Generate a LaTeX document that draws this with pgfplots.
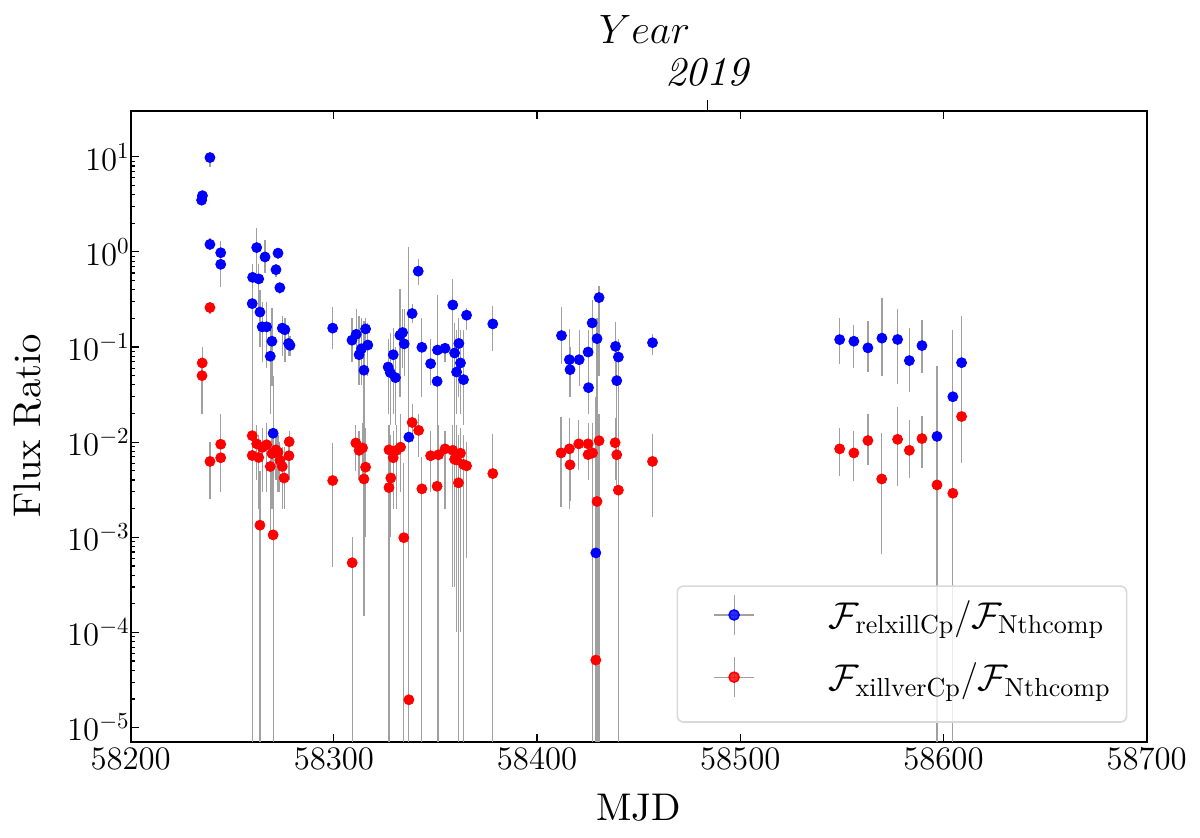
\RequirePackage{fix-cm}
\documentclass[border=0pt]{standalone}
\usepackage{fontspec}
\setmainfont{lmroman10-regular.otf}[ItalicFont=lmroman10-italic.otf, BoldFont=lmroman10-bold.otf]
\usepackage{pgfplots}
\usepackage{pgfplotstable}
\pgfplotsset{compat=1.18}

\pgfplotstableread{
x y lo hi
58234.9 3.5 3.2 3.8
58235.3 3.9 3.6 4.2
58239.0 9.8 7.8 10.5
58239.0 1.2 1.05 1.4
58244.3 0.98 0.82 1.3
58244.3 0.74 0.43 0.95
58259.8 0.286 2e-6 0.45
58260.0 0.54 0.3 0.75
58262.0 1.11 0.6 1.8
58263.0 0.52 0.25 0.75
58263.6 0.233 0.1 0.4
58264.7 0.163 0.07 0.3
58266.1 0.885 0.6 1.33
58266.9 0.163 0.06 0.3
58268.7 0.080 0.02 0.18
58269.5 0.115 0.039 0.26
58270.1 0.0124 0.008 0.05
58271.5 0.65 0.55 0.75
58272.5 0.97 0.85 1.1
58273.4 0.42 0.36 0.48
58274.6 0.158 0.08 0.21
58275.9 0.152 0.07 0.2
58277.7 0.109 0.08 0.14
58278.4 0.104 0.08 0.13
58299.4 0.158 0.096 0.263
58308.9 0.118 0.07 0.2
58311.0 0.136 0.08 0.25
58312.4 0.083 0.04 0.21
58313.6 0.096 0.04 0.2
58314.8 0.057 0.0002 0.19
58315.6 0.155 0.1 0.2
58316.7 0.105 0.05 0.18
58326.7 0.0616 0.02 0.12
58327.7 0.054 0.015 0.14
58329.2 0.083 0.02 0.16
58330.3 0.0477 0.015 0.1
58332.5 0.133 0.03 0.41
58333.8 0.142 0.06 0.25
58334.6 0.108 0.05 0.25
58336.9 0.0113 2e-6 1.13
58338.5 0.225 0.18 0.28
58341.5 0.627 0.45 0.85
58343.3 0.0993 0.03 0.2
58347.6 0.0668 0.04 0.12
58350.8 0.0436 2e-6 0.15
58351.0 0.093 2e-6 0.35
58354.7 0.097 0.07 0.11
58358.5 0.277 0.05 0.52
58359.4 0.0865 0.01 0.18
58360.4 0.0546 0.02 0.15
58361.5 0.109 0.03 0.2
58362.3 0.068 0.02 0.15
58363.8 0.0454 0.015 0.15
58365.3 0.216 0.15 0.26
58378.2 0.175 0.09 0.27
58412.0 0.132 0.067 0.263
58415.9 0.0736 0.038 0.153
58416.2 0.0578 0.03 0.1
58420.7 0.0736 0.039 0.15
58425.1 0.0886 0.04 0.15
58425.3 0.0374 0.02 0.07
58427.1 0.179 0.08 0.31
58428.9 0.000685 2e-6 0.03
58429.5 0.1225 2e-6 0.2
58430.5 0.331 0.05 0.44
58438.6 0.1016 0.04 0.183
58439.2 0.0443 0.01 0.1
58440.0 0.0785 2e-6 0.12
58456.8 0.111 0.082 0.137
58548.9 0.1197 0.067 0.2
58555.9 0.115 0.06 0.17
58562.8 0.098 0.054 0.19
58569.7 0.124 0.049 0.33
58577.4 0.12 0.041 0.254
58583.2 0.072 0.034 0.16
58589.4 0.1035 0.053 0.194
58596.8 0.0115 2e-6 0.063
58604.6 0.030 2e-6 0.15
58608.9 0.0685 0.0078 0.213
}\relxill

\pgfplotstableread{
x y lo hi
58235.1 0.050 0.02 0.07
58235.2 0.068 0.04 0.1
58239.0 0.26 0.22 0.3
58239.0 0.00627 0.0025 0.01
58244.3 0.0095 0.005 0.02
58244.3 0.00686 0.003 0.0095
58259.8 0.0117 0.005 0.02
58259.8 0.00724 2e-6 0.012
58262.0 0.0096 0.004 0.015
58263.0 0.0069 0.002 0.012
58263.6 0.00134 2e-6 0.005
58264.7 0.0088 0.003 0.014
58266.9 0.0094 0.003 0.016
58268.7 0.00555 0.001 0.01
58269.5 0.0076 0.002 0.013
58270.1 0.00106 2e-6 0.01
58271.5 0.0083 0.004 0.012
58272.5 0.00786 0.003 0.012
58273.4 0.00645 0.003 0.01
58274.6 0.00555 0.002 0.009
58275.5 0.0042 0.002 0.009
58277.9 0.0072 0.004 0.01
58278.0 0.0101 0.007 0.013
58299.4 0.00395 0.00049 0.0098
58309.0 0.00054 2e-6 0.001
58310.8 0.0098 0.005 0.015
58312.4 0.0082 0.004 0.013
58314.1 0.0087 0.004 0.016
58314.8 0.0041 0.00015 0.012
58315.6 0.00546 0.001 0.014
58327.1 0.0083 0.002 0.015
58327.1 0.00333 2e-6 0.01
58328.0 0.0042 0.001 0.012
58329.2 0.00686 0.002 0.013
58330.8 0.0082 0.002 0.015
58332.8 0.00886 0.003 0.02
58334.4 0.00099 2e-6 0.006
58336.9 0.0000196 2e-6 0.0005
58338.5 0.0161 0.01 0.025
58341.7 0.0133 0.007 0.02
58343.3 0.00323 2e-6 0.007
58347.6 0.0072 0.003 0.013
58350.8 0.00344 2e-6 0.01
58351.5 0.00737 2e-6 0.015
58354.7 0.0085 0.002 0.013
58358.5 0.0082 0.0003 0.015
58359.4 0.0066 0.0003 0.015
58360.4 0.0065 0.0001 0.015
58361.3 0.00374 2e-6 0.012
58362.3 0.00765 0.0001 0.014
58363.8 0.00582 2e-6 0.012
58365.3 0.00564 0.0006 0.01
58378.2 0.00468 2e-6 0.0123
58411.8 0.0077 0.0021 0.0183
58415.9 0.0085 0.002 0.018
58416.2 0.00578 0.00241 0.009
58420.5 0.0096 0.0051 0.0172
58425.1 0.0096 0.004 0.016
58425.1 0.0074 0.0041 0.0154
58427.3 0.0077 2e-6 0.016
58428.9 0.0000512 2e-6 0.0003
58429.5 0.00238 2e-6 0.01
58430.5 0.01035 2e-6 0.02
58438.4 0.00986 0.004 0.018
58439.2 0.00737 0.003 0.012
58440.0 0.00313 2e-6 0.01
58456.8 0.00627 0.00165 0.0121
58548.9 0.0085 0.0044 0.014
58555.9 0.0077 0.0039 0.013
58562.8 0.0104 0.0058 0.0196
58569.6 0.0041 0.00066 0.0125
58577.4 0.0107 0.0035 0.0236
58583.2 0.0082 0.0042 0.0172
58589.4 0.0109 0.0054 0.019
58596.8 0.00355 2e-6 0.01
58604.6 0.0029 2e-6 0.01
58608.9 0.0186 0.006 0.03
}\xillver

\definecolor{ebar}{RGB}{160,160,160}

\begin{document}
\begin{tikzpicture}
\useasboundingbox (-65.35pt,-48.15pt) rectangle (534.65pt,370.85pt);
\begin{axis}[
  scale only axis,
  width=508pt, height=315.5pt,
  at={(0pt,0pt)}, anchor=south west,
  xmin=58200, xmax=58700,
  ymode=log, ymin=7.1e-6, ymax=30.5,
  xtick={58200,58300,58400,58500,58600,58700},
  ytick={1e-5,1e-4,1e-3,1e-2,1e-1,1,10},
  ytick pos=left,
  scaled x ticks=false,
  /pgf/number format/1000 sep={},
  tick align=inside,
  major tick length=4pt, minor tick length=2pt,
  every tick/.style={black, line width=0.6pt},
  axis line style={line width=0.9pt},
  tick label style={font=\fontsize{16.4}{19}\selectfont},
  yticklabel style={xshift=3pt},
  label style={font=\fontsize{19.3}{23}\selectfont},
  xlabel={MJD},
  ylabel={Flux Ratio},
  xlabel style={at={(axis description cs:0.5,0)}, anchor=base, yshift=-39.6pt},
  ylabel style={at={(axis description cs:-0.088,0.5)}, anchor=south, inner sep=0pt},
  error bars/error bar style={ebar, line width=0.6pt},
  legend style={at={(0.981,0.030)}, anchor=south east,
    draw=black!15, line width=0.8pt, rounded corners=3pt,
    fill=white, fill opacity=0.8, text opacity=1,
    font=\fontsize{18.6}{21}\selectfont,
    nodes={inner sep=0pt},
    inner xsep=8pt, inner ysep=2pt, row sep=10.5pt,
    /tikz/every odd column/.append style={column sep=37pt}},
  legend cell align=left,
]
\addplot[forget plot, only marks, mark=*, mark size=2.5pt, blue, mark options={fill=blue, draw=blue},
  error bars/.cd, y dir=both, y explicit, error mark=none]
  table[x=x, y=y, y error plus expr=\thisrow{hi}-\thisrow{y}, y error minus expr=\thisrow{y}-\thisrow{lo}] {\relxill};
\addplot[forget plot, only marks, mark=*, mark size=2.5pt, red, mark options={fill=red, draw=red},
  error bars/.cd, y dir=both, y explicit, error mark=none]
  table[x=x, y=y, y error plus expr=\thisrow{hi}-\thisrow{y}, y error minus expr=\thisrow{y}-\thisrow{lo}] {\xillver};
\addlegendimage{legend image code/.code={
    \path (-10pt,0pt) (20pt,0pt) (10pt,12.5pt);
    \draw[ebar, line width=0.6pt] (0pt,0.5pt)--(20pt,0.5pt) (10pt,-9.5pt)--(10pt,10.5pt);
    \fill[blue] (10pt,0.5pt) circle (2.5pt);}}
\addlegendentry{$\mathcal{F}_{\mathrm{relxillCp}}/\mathcal{F}_{\mathrm{Nthcomp}}$}
\addlegendimage{legend image code/.code={
    \path (-10pt,0pt) (20pt,0pt) (10pt,-19.5pt);
    \draw[ebar, line width=0.6pt] (0pt,0.5pt)--(20pt,0.5pt) (10pt,-9.5pt)--(10pt,10.5pt);
    \fill[red] (10pt,0.5pt) circle (2.5pt);}}
\addlegendentry{$\mathcal{F}_{\mathrm{xillverCp}}/\mathcal{F}_{\mathrm{Nthcomp}}$}
\end{axis}
\begin{axis}[
  scale only axis,
  width=508pt, height=315.5pt,
  at={(0pt,0pt)}, anchor=south west,
  xmin=58200, xmax=58700, ymin=0, ymax=1,
  scaled x ticks=false,
  axis x line*=top, axis y line=none,
  axis line style={draw=none},
  xtick={58484}, xticklabels={\textit{2019}},
  tick align=outside, major tick length=5.5pt,
  every tick/.style={black, line width=0.6pt},
  xticklabel style={font=\fontsize{20.5}{24}\selectfont, yshift=3pt},
  xlabel={$Year$},
  xlabel style={font=\fontsize{20.5}{24}\selectfont, at={(axis description cs:0.5,1)}, anchor=base, yshift=33.5pt, xshift=3pt},
]
\end{axis}
\end{tikzpicture}
\end{document}
